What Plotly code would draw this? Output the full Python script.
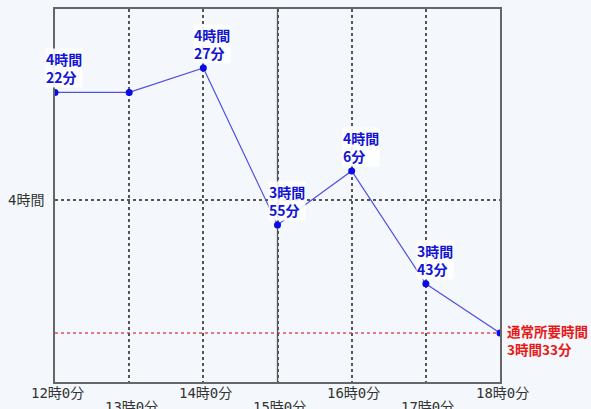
import plotly.graph_objects as go

# ---- data ----
hours = [12, 13, 14, 15, 16, 17, 18]
x_tick_labels = ["12時0分", "13時0分", "14時0分", "15時0分", "16時0分", "17時0分", "18時0分"]
durations_min = [262, 262, 267, 235, 246, 223, 213]
show_label = [True, False, True, True, True, True, True]
normal_min = 213
normal_label = "通常所要時間"
y_tick_vals = [240]
y_tick_labels = ["4時間"]

BG = "#f4f8fc"
BLUE_TXT = "#1414d2"
RED_TXT = "#e81818"
FONT_CJK = "Noto Sans CJK JP"
FONT_MONO = "DejaVu Sans Mono, Noto Sans CJK JP"


def fmt(m):
    return f"{m // 60}時間<br>{m % 60}分"


fig = go.Figure()
fig.add_trace(go.Scatter(
    x=hours, y=durations_min, mode="lines+markers",
    line=dict(color="#5050e0", width=1.2),
    marker=dict(color="#0a0ae8", size=7),
    hoverinfo="skip", showlegend=False,
))

# normal time (red dotted)
fig.add_shape(type="line", xref="paper", x0=0, x1=1, yref="y",
              y0=normal_min, y1=normal_min,
              line=dict(color="#e05050", width=1.5, dash="dot"), layer="below")
# solid middle vertical line
fig.add_shape(type="line", xref="x", x0=hours[3], x1=hours[3], yref="paper",
              y0=0, y1=1, line=dict(color="#555555", width=1.3), layer="below")

annotations = []
for i, (h, m) in enumerate(zip(hours, durations_min)):
    if i == len(hours) - 1:
        annotations.append(dict(
            x=h, y=m, xref="x", yref="y",
            text=f"{normal_label}<br>{fmt(m).replace('<br>', '')}",
            showarrow=False, xanchor="left", yanchor="top", align="left",
            xshift=6, yshift=13, borderpad=0,
            font=dict(family=FONT_CJK, size=13.5, color=RED_TXT, weight="bold"),
        ))
    elif show_label[i]:
        annotations.append(dict(
            x=h, y=m, xref="x", yref="y", text=fmt(m),
            showarrow=False, xanchor="left", yanchor="bottom", align="left",
            xshift=-10, yshift=4, bgcolor="rgba(255,255,255,0.9)", borderpad=0,
            font=dict(family=FONT_CJK, size=14, color=BLUE_TXT, weight="bold"),
        ))

for i, (h, t) in enumerate(zip(hours, x_tick_labels)):
    annotations.append(dict(
        x=h, y=0, xref="x", yref="paper", text=t, showarrow=False,
        xanchor="center", yanchor="top", yshift=-1 if i % 2 == 0 else -15,
        xshift=2,
        font=dict(family=FONT_MONO, size=14, color="#333333"),
    ))

fig.update_layout(
    width=591, height=409,
    margin=dict(l=55, r=91, t=7, b=27),
    paper_bgcolor=BG, plot_bgcolor=BG,
    annotations=annotations,
    xaxis=dict(
        range=[hours[0], hours[-1]], tickvals=hours, showticklabels=False,
        showgrid=True, gridcolor="#555555", griddash="dot", gridwidth=1.5,
        showline=True, linecolor="#666666", linewidth=1.5, mirror=True,
        zeroline=False, ticks="", fixedrange=True,
    ),
    yaxis=dict(
        range=[203, 279], tickvals=y_tick_vals, ticktext=y_tick_labels,
        showgrid=True, gridcolor="#555555", griddash="dot", gridwidth=1.5,
        showline=True, linecolor="#666666", linewidth=1.5, mirror=True,
        zeroline=False, ticks="", ticklabelstandoff=6,
        tickfont=dict(family=FONT_MONO, size=14, color="#333333"),
    ),
)

fig.write_html(
    "out.html",
    config={"displayModeBar": False},
    post_script="document.body.style.margin='0';document.body.style.overflow='hidden';"
                "document.body.style.background='" + BG + "';",
)
